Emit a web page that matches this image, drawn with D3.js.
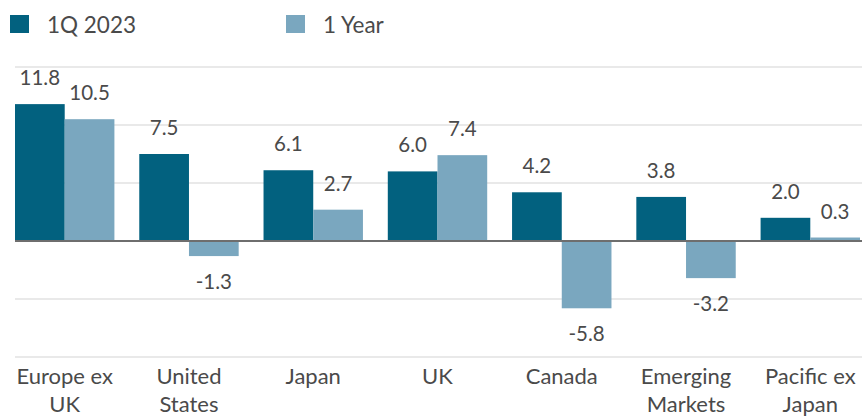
<!DOCTYPE html>
<html><head><meta charset="utf-8">
<script src="https://cdn.jsdelivr.net/npm/d3@7"></script>
<style>body{margin:0;background:#fff}svg{display:block}text{font-family:Lato,"Open Sans",sans-serif}</style>
</head><body><svg id="c" width="862" height="416"></svg>
<script>
const categories = [["Europe ex","UK"],["United","States"],["Japan"],["UK"],["Canada"],["Emerging","Markets"],["Pacific ex","Japan"]];
const seriesNames = ["1Q 2023","1 Year"];
const q1Values = [11.8, 7.5, 6.1, 6.0, 4.2, 3.8, 2.0];
const yearValues = [10.5, -1.3, 2.7, 7.4, -5.8, -3.2, 0.3];
const yTicks = [-10, -5, 0, 5, 10, 15];
const colors = ["#02617f", "#7aa7bf"];

const svg = d3.select("#c");
const keys = categories.map((c,i)=>i);
const x = d3.scaleBand().domain(keys).range([15, 860]).paddingInner(0.2).paddingOuter(0);
const x1 = d3.scaleBand().domain([0,1]).range([0, x.bandwidth()]);
const y = d3.scaleLinear().domain([-10, 15]).range([357, 67]);
const fmt = d => d.toFixed(1);

// gridlines
svg.append("g").selectAll("line").data(yTicks.filter(t=>t!==0)).join("line")
  .attr("x1", 15).attr("x2", 862).attr("y1", d=>y(d)).attr("y2", d=>y(d))
  .attr("stroke", "#e2e2e2").attr("stroke-width", 1.5);

const series = [q1Values, yearValues];
series.forEach((vals, s) => {
  const g = svg.append("g");
  g.selectAll("rect").data(vals).join("rect")
    .attr("x", (d,i)=>x(i)+x1(s))
    .attr("width", x1.bandwidth())
    .attr("y", d=>y(Math.max(0,d)))
    .attr("height", d=>Math.abs(y(d)-y(0)))
    .attr("fill", colors[s]);
  g.selectAll("text").data(vals).join("text")
    .attr("x", (d,i)=>x(i)+x1(s)+x1.bandwidth()/2)
    .attr("y", d=> d>=0 ? y(d)-19 : y(d)+33)
    .attr("text-anchor","middle")
    .attr("font-size", 20.5).attr("fill", "#4a4a4a")
    .text(fmt);
});

// zero line
svg.append("line").attr("x1",15).attr("x2",862).attr("y1",y(0)).attr("y2",y(0))
  .attr("stroke","#6e6e6e").attr("stroke-width",2);

// category labels
const cat = svg.append("g").selectAll("text").data(categories).join("text")
  .attr("x", (d,i)=>x(i)+x.bandwidth()/2)
  .attr("y", 384)
  .attr("text-anchor","middle").attr("font-size", 22).attr("fill","#4a4a4a");
cat.selectAll("tspan").data(d=>d).join("tspan")
  .attr("x", function(){return d3.select(this.parentNode).attr("x");})
  .attr("dy", (d,i)=> i===0 ? 0 : 28)
  .text(d=>d);

// legend
const legX = [10, 286];
seriesNames.forEach((n,s)=>{
  svg.append("rect").attr("x",legX[s]).attr("y",15).attr("width",19).attr("height",18).attr("fill",colors[s]);
  svg.append("text").attr("x",legX[s]+37).attr("y",33).attr("font-size",22.5).attr("fill","#4a4a4a").text(n);
});
</script></body></html>
